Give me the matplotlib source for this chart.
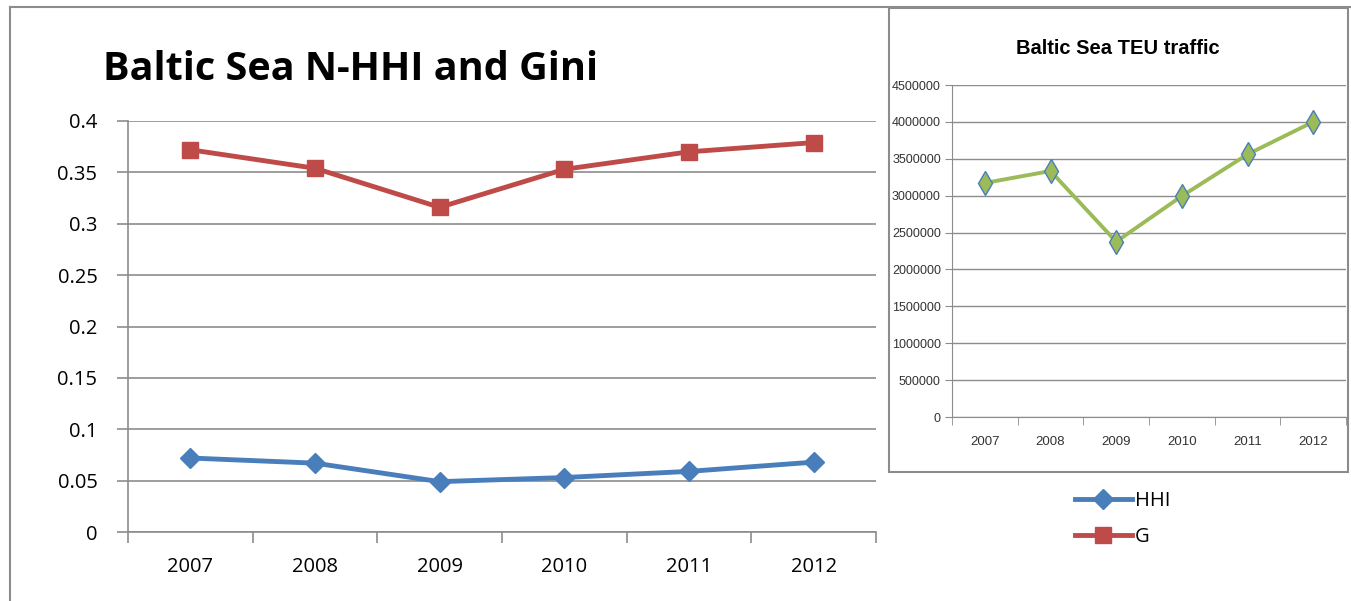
import matplotlib.pyplot as plt
from matplotlib.lines import Line2D
from matplotlib.patches import Rectangle

years = ["2007", "2008", "2009", "2010", "2011", "2012"]
hhi = [0.072, 0.067, 0.049, 0.053, 0.059, 0.068]
gini = [0.372, 0.354, 0.316, 0.353, 0.370, 0.379]
teu = [3172000, 3334000, 2376000, 2995000, 3560000, 4000000]

BLUE = "#4A7EBB"
RED = "#BE4B48"
GREEN = "#9BBB59"
GRID = "#8C8C8C"

plt.rcParams["font.family"] = ["Open Sans", "DejaVu Sans"]

fig = plt.figure(figsize=(13.51, 6.01), dpi=100)
W, H = 1351, 601

# outer frame of the left chart and the inset box
fig.add_artist(Line2D([10 / W, 10 / W], [0, 1 - 7 / H], color=GRID, lw=1.5))
fig.add_artist(Line2D([10 / W, 1], [1 - 7 / H, 1 - 7 / H], color=GRID, lw=1.5))
fig.add_artist(Rectangle((889 / W, 1 - 472 / H), 459 / W, 464 / H,
                         fill=False, edgecolor=GRID, lw=1.5))

# main chart
ax = fig.add_axes([128 / W, 1 - 532 / H, 748 / W, 411 / H])
x = range(len(years))
ax.plot(x, hhi, color=BLUE, lw=3.5, marker="D", ms=10, label="HHI", zorder=3)
ax.plot(x, gini, color=RED, lw=3.5, marker="s", ms=12, label="G", zorder=3)
ax.set_xlim(-0.5, 5.5)
ax.set_ylim(0, 0.4)
ax.set_yticks([0, 0.05, 0.1, 0.15, 0.2, 0.25, 0.3, 0.35, 0.4])
ax.set_yticklabels(["0", "0.05", "0.1", "0.15", "0.2", "0.25", "0.3", "0.35", "0.4"])
ax.set_xticks(list(x))
ax.set_xticklabels(years)
ax.set_xticks([i - 0.5 for i in range(len(years) + 1)], minor=True)
ax.tick_params(axis="x", which="major", length=0, labelsize=14.5, pad=18)
ax.tick_params(axis="x", which="minor", length=8, color=GRID, width=1.2)
ax.tick_params(axis="y", length=8, color=GRID, width=1.2, labelsize=14.5, pad=14)
ax.yaxis.grid(True, color=GRID, lw=1.2)
ax.set_axisbelow(True)
for s in ["top", "right"]:
    ax.spines[s].set_visible(False)
for s in ["left", "bottom"]:
    ax.spines[s].set_color(GRID)
    ax.spines[s].set_linewidth(1.2)
fig.text(103 / W, 1 - 70 / H, "Baltic Sea N-HHI and Gini", fontsize=28.5,
         fontweight="bold", va="center", ha="left")

# inset chart
nf = ["Liberation Sans", "DejaVu Sans"]
ax2 = fig.add_axes([952 / W, 1 - 417 / H, 394 / W, 332 / H])
ax2.plot(x, teu, color=GREEN, lw=2.8, marker="d", ms=12, mfc=GREEN,
         mec=BLUE, mew=1.0, zorder=3)
ax2.set_xlim(-0.5, 5.5)
ax2.set_ylim(0, 4500000)
ax2.set_yticks(range(0, 4500001, 500000))
ax2.set_yticklabels([str(v) for v in range(0, 4500001, 500000)],
                    fontfamily=nf, fontsize=9, color="#333333")
ax2.set_xticks(list(x))
ax2.set_xticklabels(years, fontfamily=nf, fontsize=9.5, color="#333333")
ax2.set_xticks([i - 0.5 for i in range(len(years) + 1)], minor=True)
ax2.tick_params(axis="x", which="major", length=0, pad=14)
ax2.tick_params(axis="x", which="minor", length=6, color=GRID)
ax2.tick_params(axis="y", length=5, color=GRID, pad=3)
ax2.yaxis.grid(True, color=GRID, lw=1)
ax2.set_axisbelow(True)
for s in ["top", "right"]:
    ax2.spines[s].set_visible(False)
for s in ["left", "bottom"]:
    ax2.spines[s].set_color(GRID)
fig.text(1118 / W, 1 - 49 / H, "Baltic Sea TEU traffic", fontsize=14.5,
         fontweight="bold", fontfamily=nf, ha="center", va="center")

handles, labels = ax.get_legend_handles_labels()
fig.legend(handles, labels, loc="center left",
           bbox_to_anchor=(1057 / W, 1 - 519 / H), frameon=False,
           fontsize=14.5, handlelength=2.8, labelspacing=0.8, handletextpad=0.15)

fig.savefig("out.png", dpi=100)
